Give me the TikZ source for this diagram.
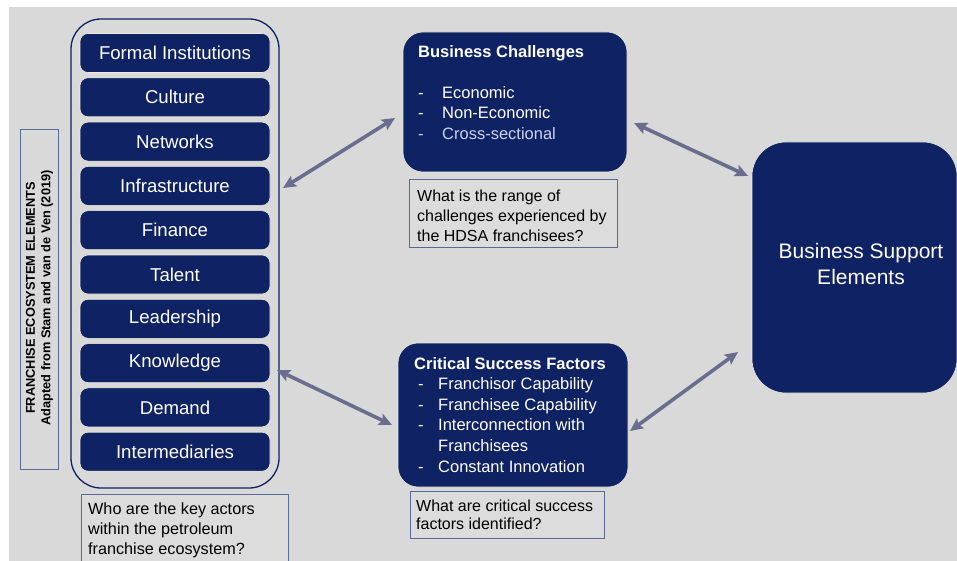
\documentclass[tikz,border=0pt]{standalone}
\usepackage{fontspec}
\setmainfont{Liberation Sans}
\usetikzlibrary{arrows.meta}
\definecolor{navy}{HTML}{0F2263}
\definecolor{bg}{HTML}{D9D9D9}
\definecolor{qfill}{HTML}{DCDCDC}
\definecolor{arrowc}{HTML}{6B6D8E}
\definecolor{qborder}{HTML}{5A6A96}
\definecolor{glow}{HTML}{EDEBDD}
\definecolor{paleblue}{HTML}{C9D3EE}
\begin{document}
\begin{tikzpicture}[x=1pt,y=-1pt,
  itembox/.style={rectangle, rounded corners=8pt, fill=navy, draw=glow, line width=0.6pt,
    minimum width=190pt, minimum height=39pt, text=white, inner sep=0pt,
    font=\fontsize{18.6}{20}\selectfont},
  bigbox/.style={rectangle, fill=navy, draw=glow, line width=0.6pt, inner sep=0pt},
  qbox/.style={rectangle, draw=qborder, line width=0.8pt, fill=qfill, inner sep=0pt},
  qtext/.style={anchor=north west, inner sep=0pt, align=left, text=black},
  wtext/.style={anchor=north west, inner sep=0pt, align=left, text=white},
  dbl/.style={draw=arrowc, line width=3.6pt, {Stealth[length=13pt,width=12pt,inset=2.5pt]}-{Stealth[length=13pt,width=12pt,inset=2.5pt]}}
]
\useasboundingbox (0,0) rectangle (957,561);
\fill[white] (0,0) rectangle (957,561);
\fill[bg] (9,7) rectangle (957,561);

% outer column
\node[draw=navy, line width=1.3pt, rounded corners=30pt, minimum width=208pt, minimum height=469pt, inner sep=0pt] (col) at (175,253.5) {};

% items
\node[itembox] (i1) at (175,53) {Formal Institutions};
\node[itembox] (i2) at (175,97.3) {Culture};
\node[itembox] (i3) at (175,141.6) {Networks};
\node[itembox] (i4) at (175,185.9) {Infrastructure};
\node[itembox] (i5) at (175,230.2) {Finance};
\node[itembox] (i6) at (175,274.5) {Talent};
\node[itembox] (i7) at (175,318.8) {Leadership};
\node[itembox] (i8) at (175,363.1) {Knowledge};
\node[itembox] (i9) at (175,407.4) {Demand};
\node[itembox] (i10) at (175,451.7) {Intermediaries};

% vertical label
\node[rectangle, draw=qborder, line width=0.8pt, minimum width=38pt, minimum height=340pt, inner sep=0pt] (vbox) at (39,299) {};
\node[rotate=90, align=center, inner sep=0pt, font=\bfseries\fontsize{12.8}{15.5}\selectfont] (vtext) at (39.5,298) {FRANCHISE ECOSYSTEM ELEMENTS\\Adapted from Stam and van de Ven (2019)};

% question 1
\node[qbox, minimum width=207pt, minimum height=74pt] (q1) at (184.5,531) {};
\node[qtext, font=\fontsize{16.2}{20}\selectfont] (q1t) at (88,502.3) {Who are the key actors\\within the petroleum\\franchise ecosystem?};

% business challenges
\node[bigbox, rounded corners=20pt, minimum width=224pt, minimum height=140pt] (bc) at (515,102) {};
\node[wtext, font=\fontsize{16.5}{20.5}\selectfont] (bct) at (418,45) {\textbf{Business Challenges}\\[20.5pt]
\makebox[24pt][l]{-}Economic\\
\makebox[24pt][l]{-}Non-Economic\\
{\color{paleblue}\makebox[24pt][l]{-}Cross-sectional}};

% question 2
\node[qbox, minimum width=208pt, minimum height=68pt] (q2) at (513,213) {};
\node[qtext, font=\fontsize{16}{20}\selectfont] (q2t) at (417,189.3) {What is the range of\\challenges experienced by\\the HDSA franchisees?};

% critical success factors
\node[bigbox, rounded corners=20pt, minimum width=230pt, minimum height=144pt] (csf) at (513,415) {};
\node[wtext, font=\fontsize{16.5}{20.6}\selectfont] (csft) at (414,357) {\textbf{Critical Success Factors}\\
\makebox[24pt][l]{\hspace{4pt}-}Franchisor Capability\\
\makebox[24pt][l]{\hspace{4pt}-}Franchisee Capability\\
\makebox[24pt][l]{\hspace{4pt}-}Interconnection with\\
\hspace*{24pt}Franchisees\\
\makebox[24pt][l]{\hspace{4pt}-}Constant Innovation};

% question 3
\node[qbox, minimum width=194pt, minimum height=47pt] (q3) at (507,514.5) {};
\node[qtext, font=\fontsize{16}{18.5}\selectfont] (q3t) at (416,499.3) {What are critical success\\factors identified?};

% business support elements
\node[bigbox, rounded corners=34pt, minimum width=205pt, minimum height=251pt] (bse) at (854.5,267.5) {};
\node[align=center, text=white, inner sep=0pt, font=\fontsize{21}{26}\selectfont] (bset) at (861,264) {Business Support\\Elements};

% arrows
\coordinate (a1s) at (283,188);
\coordinate (a1e) at (395,118);
\coordinate (a2s) at (277,370);
\coordinate (a2e) at (392,425);
\coordinate (a3s) at (634,123);
\coordinate (a3e) at (748,176);
\coordinate (a4s) at (630,431);
\coordinate (a4e) at (738,352);
\draw[dbl] (a1s) -- (a1e);
\draw[dbl] (a2s) -- (a2e);
\draw[dbl] (a3s) -- (a3e);
\draw[dbl] (a4s) -- (a4e);
\end{tikzpicture}
\end{document}
